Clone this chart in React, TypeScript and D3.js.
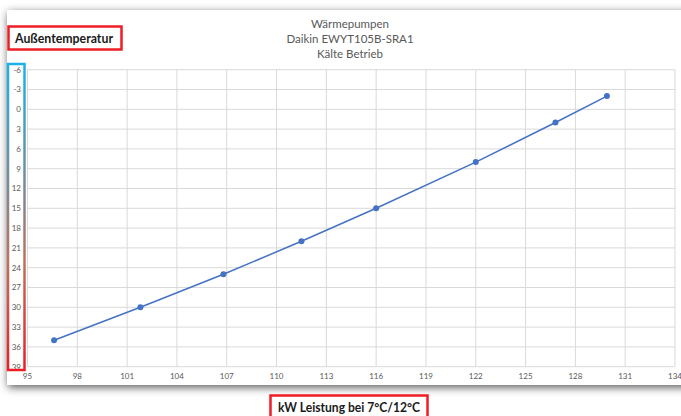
import React from "react";
import * as d3 from "d3";

// chart data
const leistungKW = [96.6, 101.8, 106.8, 111.5, 116.0, 122.0, 126.8, 129.9];
const aussenTemp = [35, 30, 25, 20, 15, 8, 2, -2];
const xTicks = [95, 98, 101, 104, 107, 110, 113, 116, 119, 122, 125, 128, 131, 134];
const yTicks = [-6, -3, 0, 3, 6, 9, 12, 15, 18, 21, 24, 27, 30, 33, 36, 39];
const titleLines = ["Wärmepumpen", "Daikin EWYT105B-SRA1", "Kälte Betrieb"];

const W = 681;
const H = 416;
const margin = { left: 27.5, right: 6, top: 69.7, bottom: 49.3 };
const font = "Lato, 'Open Sans', 'Liberation Sans', sans-serif";

export default function App() {
  const x = d3
    .scaleLinear()
    .domain([95, 134])
    .range([margin.left, W - margin.right]);
  // Excel style reversed axis: -6 on top, 39 at the bottom
  const y = d3
    .scaleLinear()
    .domain([-6, 39])
    .range([margin.top, H - margin.bottom]);

  const points = leistungKW.map((k, i) => ({ k, t: aussenTemp[i] }));
  const line = d3
    .line<{ k: number; t: number }>()
    .x((d) => x(d.k))
    .y((d) => y(d.t));

  return (
    <div style={{ position: "absolute", left: 0, top: 0 }}>
      <svg width={W} height={H} style={{ display: "block", fontFamily: font }}>
        <defs>
          <filter id="shadow" x="-5%" y="-10%" width="110%" height="120%">
            <feDropShadow dx="1" dy="2.5" stdDeviation="4.5" floodColor="#000" floodOpacity="0.65" />
          </filter>
          <linearGradient id="axisGrad" x1="0" y1="0" x2="0" y2="1">
            <stop offset="0" stopColor="#19b2ea" />
            <stop offset="0.4" stopColor="#7a8a96" />
            <stop offset="0.65" stopColor="#c0705a" />
            <stop offset="1" stopColor="#ee1c25" />
          </linearGradient>
        </defs>
        <rect x={0} y={0} width={W} height={H} fill="#fff" />
        <rect x={7} y={10} width={W + 20} height={375} fill="#fff" filter="url(#shadow)" />

        {/* title */}
        {titleLines.map((s, i) => (
          <text
            key={s}
            x={350}
            y={28 + i * 14.8}
            textAnchor="middle"
            fontSize={11.5}
            fill="#595959"
          >
            {s}
          </text>
        ))}

        {/* grid */}
        <g stroke="#d9d9d9" strokeWidth={1}>
          {xTicks.map((t) => (
            <line key={"gx" + t} x1={x(t)} x2={x(t)} y1={y(-6)} y2={y(39)} />
          ))}
          {yTicks.map((t) => (
            <line key={"gy" + t} x1={x(95)} x2={x(134)} y1={y(t)} y2={y(t)} />
          ))}
        </g>

        {/* tick labels */}
        <g fontSize={8} fill="#595959">
          {yTicks.map((t) => (
            <text key={"ty" + t} x={21} y={y(t) + 2.8} textAnchor="end">
              {t}
            </text>
          ))}
          {xTicks.map((t) => (
            <text key={"tx" + t} x={x(t)} y={379} textAnchor="middle">
              {t}
            </text>
          ))}
        </g>

        {/* series */}
        <path d={line(points) || ""} fill="none" stroke="#4472c4" strokeWidth={1.5} />
        {points.map((d, i) => (
          <circle key={i} cx={x(d.k)} cy={y(d.t)} r={3} fill="#4472c4" />
        ))}

        {/* highlighted y axis */}
        <rect x={8} y={64} width={16.5} height={306} fill="none" stroke="url(#axisGrad)" strokeWidth={2.5} />

        {/* axis titles */}
        <rect x={8.5} y={26.5} width={113} height={23} fill="#fff" stroke="#ee1c25" strokeWidth={2.5} />
        <text x={15} y={43} fontSize={13} fontWeight="bold" fill="#1a1a1a" textLength={98} lengthAdjust="spacingAndGlyphs">
          Außentemperatur
        </text>
        <rect x={270.5} y={395.5} width={157} height={30} fill="#fff" stroke="#ee1c25" strokeWidth={2.5} />
        <text x={278} y={411.5} fontSize={12.5} fontWeight="bold" fill="#1a1a1a" textLength={142} lengthAdjust="spacingAndGlyphs">
          kW Leistung bei 7°C/12°C
        </text>
      </svg>
    </div>
  );
}
